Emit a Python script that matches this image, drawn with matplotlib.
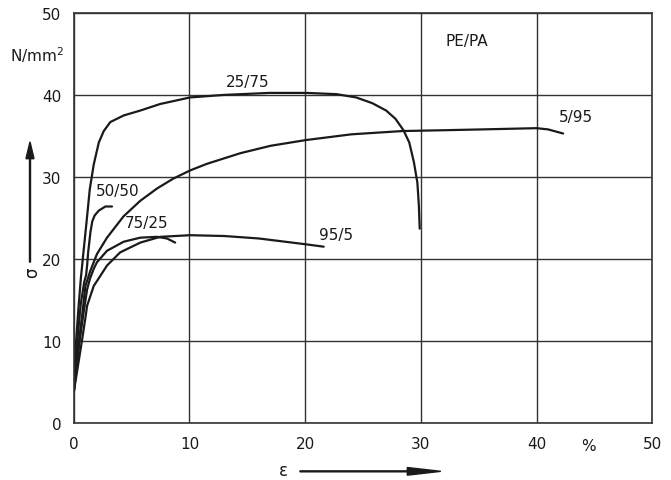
"""
Stress-strain curves for PE/PA blends, redrawn from a scanned chart.
"""
import matplotlib
matplotlib.use("Agg")
import matplotlib.pyplot as plt
from matplotlib.patches import FancyArrow

# curves: strain eps in %, stress sigma in N/mm^2
eps_25_75 = [0, 0.2, 0.4, 0.6, 0.86, 1.1, 1.38, 1.72, 2.16, 2.59, 3.16, 4.31, 5.75, 7.47,
             10.06, 12.9, 16.9, 20.1, 22.7, 24.4, 25.8, 27.0, 27.8, 28.5, 29.0, 29.4, 29.7, 29.83, 29.9]
sig_25_75 = [3.8, 10, 14, 17.5, 21.2, 24.5, 28.5, 31.5, 34.2, 35.6, 36.7, 37.5, 38.1, 38.9,
             39.7, 40.0, 40.25, 40.25, 40.1, 39.7, 39.0, 38.1, 37.1, 35.7, 34.2, 31.8, 29.3, 26.5, 23.7]

eps_50_50 = [0, 0.3, 0.6, 0.9, 1.06, 1.15, 1.24, 1.44, 1.6, 1.8, 2.16, 2.73, 3.3]
sig_50_50 = [3.8, 10, 14.5, 17.2, 18.0, 19.2, 20.8, 23.3, 24.6, 25.3, 25.9, 26.4, 26.4]

eps_5_95 = [0, 0.45, 0.75, 1.0, 1.44, 2.0, 2.87, 4.3, 5.75, 7.2, 8.6, 10.06, 11.5, 14.4, 17.0,
            20.06, 24.0, 28.4, 32, 35.3, 40, 41.0, 42.3]
sig_5_95 = [3.8, 10, 13.5, 16.7, 18.6, 20.6, 22.6, 25.2, 27.1, 28.6, 29.8, 30.8, 31.6, 32.9, 33.8,
            34.5, 35.2, 35.6, 35.7, 35.8, 35.95, 35.8, 35.3]

eps_75_25 = [0, 0.5, 0.85, 1.15, 1.4, 1.72, 2.0, 2.87, 4.3, 5.75, 7.2, 8.05, 8.76]
sig_75_25 = [3.8, 10, 13.5, 16.3, 17.6, 18.8, 19.6, 21.0, 22.1, 22.6, 22.7, 22.5, 22.0]

eps_95_5 = [0, 0.7, 1.0, 1.15, 1.72, 2.87, 4.0, 5.75, 7.47, 10.06, 13, 16, 20, 21.6]
sig_95_5 = [3.8, 10, 12.8, 14.3, 16.7, 19.2, 20.8, 22.0, 22.7, 22.9, 22.8, 22.5, 21.8, 21.5]

curves = [
    ("25/75", eps_25_75, sig_25_75, (15.0, 41.6)),
    ("50/50", eps_50_50, sig_50_50, (3.8, 28.3)),
    ("5/95", eps_5_95, sig_5_95, (43.4, 37.4)),
    ("75/25", eps_75_25, sig_75_25, (6.3, 24.5)),
    ("95/5", eps_95_5, sig_95_5, (22.7, 23.0)),
]

x_ticks = [0, 10, 20, 30, 40, 50]
y_ticks = [0, 10, 20, 30, 40, 50]

ink = "#1a1a1a"
plt.rcParams["font.family"] = ["DejaVu Sans"]
plt.rcParams["font.size"] = 11

fig = plt.figure(figsize=(6.71, 4.81), dpi=100)
ax = fig.add_axes([0.110, 0.1185, 0.862, 0.8525])

for name, x, y, (lx, ly) in curves:
    ax.plot(x, y, color=ink, lw=1.6, solid_capstyle="round", solid_joinstyle="round")
    ax.text(lx, ly, name, ha="center", va="center", color=ink)

ax.text(34.0, 46.6, "PE/PA", ha="center", va="center", color=ink)

ax.set_xlim(0, 50)
ax.set_ylim(0, 50)
ax.set_xticks(x_ticks)
ax.set_yticks(y_ticks)
ax.tick_params(length=0, colors=ink, labelsize=11)
ax.tick_params(axis="y", pad=9)
ax.tick_params(axis="x", pad=9)
ax.grid(True, color="#333333", lw=1.0)
for s in ax.spines.values():
    s.set_color("#333333")
    s.set_linewidth(1.2)

# unit labels
ax.text(44.5, -2.8, "%", ha="center", va="center", color=ink, clip_on=False)
ax.text(-3.2, 45, "N/mm$^2$", ha="center", va="center", color=ink, clip_on=False)

# axis arrows with symbols
fig.patches.append(FancyArrow(
    0.0447, 0.453, 0, 0.25, width=0.0015, head_width=0.012, head_length=0.035,
    length_includes_head=True, color=ink, transform=fig.transFigure))
fig.text(0.048, 0.432, "σ", rotation=90, ha="center", va="center", color=ink, fontsize=12)
fig.patches.append(FancyArrow(
    0.447, 0.018, 0.21, 0, width=0.002, head_width=0.016, head_length=0.05,
    length_includes_head=True, color=ink, transform=fig.transFigure))
fig.text(0.422, 0.021, "ε", ha="center", va="center", color=ink, fontsize=12)

fig.savefig("out.png", dpi=100)
